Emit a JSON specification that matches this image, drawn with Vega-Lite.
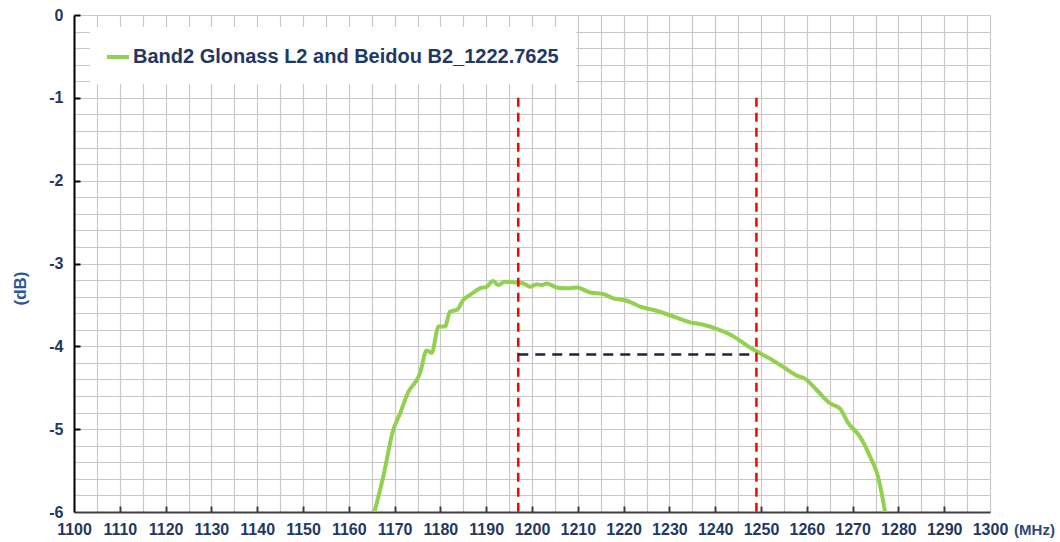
{
  "$schema": "https://vega.github.io/schema/vega-lite/v6.json",
  "width": 916,
  "height": 497,
  "autosize": {"type": "none"},
  "padding": {"left": 74, "top": 15, "right": 70, "bottom": 30},
  "background": "white",
  "config": {
    "view": {"stroke": null},
    "font": "Liberation Sans"
  },
  "datasets": {
    "curve": [
      {"x": 1165.6, "y": -6.0, "series": "Band2 Glonass L2 and Beidou B2_1222.7625"},
      {"x": 1167.5, "y": -5.58, "series": "Band2 Glonass L2 and Beidou B2_1222.7625"},
      {"x": 1169.7, "y": -5.01, "series": "Band2 Glonass L2 and Beidou B2_1222.7625"},
      {"x": 1171.2, "y": -4.81, "series": "Band2 Glonass L2 and Beidou B2_1222.7625"},
      {"x": 1173.0, "y": -4.55, "series": "Band2 Glonass L2 and Beidou B2_1222.7625"},
      {"x": 1174.8, "y": -4.41, "series": "Band2 Glonass L2 and Beidou B2_1222.7625"},
      {"x": 1175.5, "y": -4.33, "series": "Band2 Glonass L2 and Beidou B2_1222.7625"},
      {"x": 1177.0, "y": -4.05, "series": "Band2 Glonass L2 and Beidou B2_1222.7625"},
      {"x": 1178.1, "y": -4.08, "series": "Band2 Glonass L2 and Beidou B2_1222.7625"},
      {"x": 1179.6, "y": -3.76, "series": "Band2 Glonass L2 and Beidou B2_1222.7625"},
      {"x": 1181.0, "y": -3.76, "series": "Band2 Glonass L2 and Beidou B2_1222.7625"},
      {"x": 1182.1, "y": -3.58, "series": "Band2 Glonass L2 and Beidou B2_1222.7625"},
      {"x": 1183.6, "y": -3.56, "series": "Band2 Glonass L2 and Beidou B2_1222.7625"},
      {"x": 1185.0, "y": -3.44, "series": "Band2 Glonass L2 and Beidou B2_1222.7625"},
      {"x": 1186.5, "y": -3.38, "series": "Band2 Glonass L2 and Beidou B2_1222.7625"},
      {"x": 1188.6, "y": -3.30, "series": "Band2 Glonass L2 and Beidou B2_1222.7625"},
      {"x": 1190.1, "y": -3.28, "series": "Band2 Glonass L2 and Beidou B2_1222.7625"},
      {"x": 1191.5, "y": -3.21, "series": "Band2 Glonass L2 and Beidou B2_1222.7625"},
      {"x": 1192.6, "y": -3.26, "series": "Band2 Glonass L2 and Beidou B2_1222.7625"},
      {"x": 1194.1, "y": -3.22, "series": "Band2 Glonass L2 and Beidou B2_1222.7625"},
      {"x": 1196.6, "y": -3.23, "series": "Band2 Glonass L2 and Beidou B2_1222.7625"},
      {"x": 1198.1, "y": -3.24, "series": "Band2 Glonass L2 and Beidou B2_1222.7625"},
      {"x": 1199.6, "y": -3.28, "series": "Band2 Glonass L2 and Beidou B2_1222.7625"},
      {"x": 1201.0, "y": -3.25, "series": "Band2 Glonass L2 and Beidou B2_1222.7625"},
      {"x": 1202.1, "y": -3.26, "series": "Band2 Glonass L2 and Beidou B2_1222.7625"},
      {"x": 1203.2, "y": -3.24, "series": "Band2 Glonass L2 and Beidou B2_1222.7625"},
      {"x": 1205.4, "y": -3.29, "series": "Band2 Glonass L2 and Beidou B2_1222.7625"},
      {"x": 1207.6, "y": -3.30, "series": "Band2 Glonass L2 and Beidou B2_1222.7625"},
      {"x": 1209.7, "y": -3.29, "series": "Band2 Glonass L2 and Beidou B2_1222.7625"},
      {"x": 1212.7, "y": -3.35, "series": "Band2 Glonass L2 and Beidou B2_1222.7625"},
      {"x": 1215.6, "y": -3.37, "series": "Band2 Glonass L2 and Beidou B2_1222.7625"},
      {"x": 1217.8, "y": -3.42, "series": "Band2 Glonass L2 and Beidou B2_1222.7625"},
      {"x": 1220.7, "y": -3.45, "series": "Band2 Glonass L2 and Beidou B2_1222.7625"},
      {"x": 1223.6, "y": -3.52, "series": "Band2 Glonass L2 and Beidou B2_1222.7625"},
      {"x": 1227.2, "y": -3.57, "series": "Band2 Glonass L2 and Beidou B2_1222.7625"},
      {"x": 1230.9, "y": -3.64, "series": "Band2 Glonass L2 and Beidou B2_1222.7625"},
      {"x": 1234.5, "y": -3.71, "series": "Band2 Glonass L2 and Beidou B2_1222.7625"},
      {"x": 1237.4, "y": -3.74, "series": "Band2 Glonass L2 and Beidou B2_1222.7625"},
      {"x": 1240.3, "y": -3.79, "series": "Band2 Glonass L2 and Beidou B2_1222.7625"},
      {"x": 1244.0, "y": -3.88, "series": "Band2 Glonass L2 and Beidou B2_1222.7625"},
      {"x": 1246.9, "y": -3.99, "series": "Band2 Glonass L2 and Beidou B2_1222.7625"},
      {"x": 1249.0, "y": -4.06, "series": "Band2 Glonass L2 and Beidou B2_1222.7625"},
      {"x": 1252.0, "y": -4.15, "series": "Band2 Glonass L2 and Beidou B2_1222.7625"},
      {"x": 1254.9, "y": -4.25, "series": "Band2 Glonass L2 and Beidou B2_1222.7625"},
      {"x": 1258.1, "y": -4.36, "series": "Band2 Glonass L2 and Beidou B2_1222.7625"},
      {"x": 1259.3, "y": -4.38, "series": "Band2 Glonass L2 and Beidou B2_1222.7625"},
      {"x": 1262.2, "y": -4.53, "series": "Band2 Glonass L2 and Beidou B2_1222.7625"},
      {"x": 1265.1, "y": -4.69, "series": "Band2 Glonass L2 and Beidou B2_1222.7625"},
      {"x": 1267.2, "y": -4.75, "series": "Band2 Glonass L2 and Beidou B2_1222.7625"},
      {"x": 1269.1, "y": -4.93, "series": "Band2 Glonass L2 and Beidou B2_1222.7625"},
      {"x": 1271.6, "y": -5.09, "series": "Band2 Glonass L2 and Beidou B2_1222.7625"},
      {"x": 1273.8, "y": -5.33, "series": "Band2 Glonass L2 and Beidou B2_1222.7625"},
      {"x": 1275.6, "y": -5.58, "series": "Band2 Glonass L2 and Beidou B2_1222.7625"},
      {"x": 1277.1, "y": -6.0, "series": "Band2 Glonass L2 and Beidou B2_1222.7625"}
    ],
    "markers": [
      {"x": 1197, "y": -1, "y2": -6},
      {"x": 1249, "y": -1, "y2": -6}
    ],
    "level": [
      {"x": 1197, "x2": 1249, "y": -4.1}
    ]
  },
  "encoding": {
    "x": {
      "field": "x",
      "type": "quantitative",
      "scale": {"domain": [1100, 1300], "nice": false, "zero": false},
      "axis": {
        "values": [1100,1105,1110,1115,1120,1125,1130,1135,1140,1145,1150,1155,1160,1165,1170,1175,1180,1185,1190,1195,1200,1205,1210,1215,1220,1225,1230,1235,1240,1245,1250,1255,1260,1265,1270,1275,1280,1285,1290,1295,1300],
        "labelExpr": "datum.value % 10 == 0 ? datum.label : ''",
        "format": "d",
        "grid": true,
        "gridColor": "#C8C8C8",
        "gridWidth": 1.2,
        "domain": true,
        "domainColor": "#404040",
        "domainWidth": 2,
        "ticks": true,
        "tickSize": -6,
        "tickWidth": 2,
        "tickColor": "#404040",
        "tickOpacity": {"condition": {"test": "datum.value % 10 == 0 && datum.value > 1100 && datum.value < 1300", "value": 1}, "value": 0},
        "labelFont": "Liberation Sans",
        "labelFontSize": 16,
        "labelFontWeight": "bold",
        "labelColor": "#1F3864",
        "labelPadding": 15,
        "labelFlush": false,
        "labelOverlap": false,
        "title": "(MHz)",
        "titleFont": "Liberation Sans",
        "titleFontSize": 15,
        "titleFontWeight": "bold",
        "titleColor": "#2F4A75",
        "titleAnchor": null,
        "titleX": 960,
        "titleY": 17,
        "titleAlign": "center",
        "titleBaseline": "middle"
      }
    },
    "y": {
      "field": "y",
      "type": "quantitative",
      "scale": {"domain": [-6, 0], "nice": false, "zero": false},
      "axis": {
        "values": [-6,-5.8,-5.6,-5.4,-5.2,-5,-4.8,-4.6,-4.4,-4.2,-4,-3.8,-3.6,-3.4,-3.2,-3,-2.8,-2.6,-2.4,-2.2,-2,-1.8,-1.6,-1.4,-1.2,-1,-0.8,-0.6,-0.4,-0.2,0],
        "labelExpr": "abs(datum.value - round(datum.value)) < 0.001 ? ('' + round(datum.value)) : ''",
        "grid": true,
        "gridColor": "#C8C8C8",
        "gridWidth": 1.2,
        "domain": true,
        "domainColor": "#000000",
        "domainWidth": 2,
        "ticks": true,
        "tickSize": -6,
        "tickWidth": 2,
        "tickColor": "#000000",
        "tickOpacity": {"condition": {"test": "abs(datum.value - round(datum.value)) < 0.001 && datum.value > -6", "value": 1}, "value": 0},
        "labelFont": "Liberation Sans",
        "labelFontSize": 16,
        "labelFontWeight": "bold",
        "labelColor": "#1F3864",
        "labelPadding": 17,
        "labelFlush": false,
        "labelOverlap": false,
        "title": "(dB)",
        "titleFont": "Liberation Sans",
        "titleFontSize": 17,
        "titleFontWeight": "bold",
        "titleColor": "#2F5597",
        "titleAngle": 270,
        "titleX": -54,
        "titleY": 273,
        "titleAlign": "center",
        "titleBaseline": "middle"
      }
    }
  },
  "layer": [
    {
      "data": {"name": "curve"},
      "mark": {"type": "line", "strokeWidth": 4, "clip": true, "interpolate": "monotone"},
      "encoding": {
        "color": {
          "field": "series",
          "type": "nominal",
          "scale": {"range": ["#92D050"]},
          "legend": {
            "title": null,
            "orient": "none",
            "legendX": 16,
            "legendY": 12,
            "fillColor": "white",
            "padding": 17,
            "symbolType": "stroke",
            "symbolStrokeWidth": 4,
            "symbolSize": 480,
            "symbolOffset": -2,
            "labelOffset": 2,
            "labelFont": "Liberation Sans",
            "labelFontSize": 20,
            "labelFontWeight": "bold",
            "labelColor": "#1F3864",
            "labelLimit": 600
          }
        }
      }
    },
    {
      "data": {"name": "markers"},
      "mark": {"type": "rule", "color": "#FF0000", "strokeWidth": 2.5, "strokeDash": [9, 6]},
      "encoding": {
        "y2": {"field": "y2"}
      }
    },
    {
      "data": {"name": "level"},
      "mark": {"type": "rule", "color": "#1A2540", "strokeWidth": 2.5, "strokeDash": [10, 7]},
      "encoding": {
        "x2": {"field": "x2"}
      }
    }
  ]
}
